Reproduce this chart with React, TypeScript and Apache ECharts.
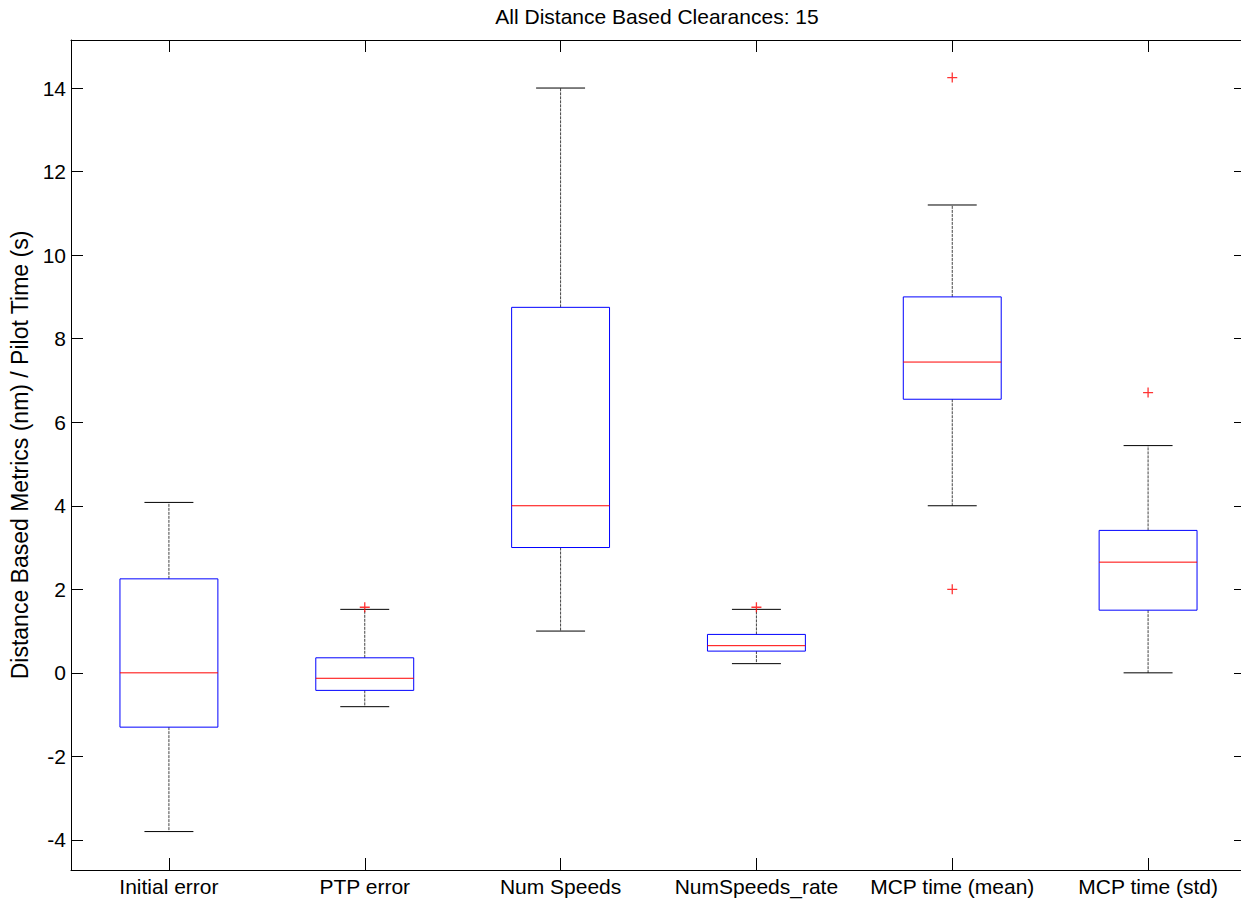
import React, { useEffect, useRef } from "react";
import * as echarts from "echarts";

const categories = ["Initial error", "PTP error", "Num Speeds", "NumSpeeds_rate", "MCP time (mean)", "MCP time (std)"];
const lowerWhisker = [-3.8, -0.81, 1.0, 0.22, 4.0, 0.0];
const q1 = [-1.3, -0.42, 3.0, 0.52, 6.55, 1.5];
const median = [0.0, -0.13, 4.0, 0.65, 7.44, 2.65];
const q3 = [2.25, 0.36, 8.75, 0.92, 9.0, 3.41];
const upperWhisker = [4.08, 1.52, 14.0, 1.52, 11.2, 5.44];
const outlierCats = [1, 3, 4, 4, 5];
const outlierValues = [1.57, 1.57, 14.25, 2.0, 6.71];
const yTicks = [-4, -2, 0, 2, 4, 6, 8, 10, 12, 14];
const yMin = -4.72;
const yMax = 15.15;

const FONT = "Liberation Sans, Arial, Helvetica, sans-serif";
const FS = 21;

export default function App() {
  const ref = useRef<HTMLDivElement>(null);
  useEffect(() => {
    if (!ref.current) return;
    const chart = echarts.init(ref.current, undefined, { renderer: "svg" });
    const boxData = categories.map((_, i) => [i, lowerWhisker[i], q1[i], median[i], q3[i], upperWhisker[i]]);
    const outData = outlierCats.map((c, i) => [c, outlierValues[i]]);
    const tickCommon = { show: true, inside: true, length: 12, lineStyle: { color: "#000", width: 1 } };
    const lineCommon = { show: true, onZero: false, lineStyle: { color: "#000", width: 1 } };
    chart.setOption({
      animation: false,
      backgroundColor: "#fff",
      title: {
        text: "All Distance Based Clearances: 15",
        left: 652,
        top: 1,
        textAlign: "center",
        textStyle: { fontFamily: FONT, fontSize: 21, fontWeight: "normal", color: "#000" },
      },
      grid: { left: 67, top: 40, width: 1179, height: 830 },
      xAxis: [
        {
          type: "category",
          data: categories,
          position: "bottom",
          boundaryGap: true,
          axisLine: lineCommon,
          axisTick: { ...tickCommon, alignWithLabel: true, interval: 0 },
          axisLabel: { color: "#000", fontFamily: FONT, fontSize: FS, margin: 6, interval: 0 },
          splitLine: { show: false },
        },
        {
          type: "category",
          data: categories,
          position: "top",
          boundaryGap: true,
          axisLine: lineCommon,
          axisTick: { ...tickCommon, alignWithLabel: true, interval: 0 },
          axisLabel: { show: false, interval: 0 },
          splitLine: { show: false },
        },
      ],
      yAxis: [
        {
          type: "value",
          min: yMin,
          max: yMax,
          position: "left",
          name: "Distance Based Metrics (nm) / Pilot Time (s)",
          nameLocation: "middle",
          nameRotate: 90,
          nameGap: 40,
          nameTextStyle: { fontFamily: FONT, fontSize: 23, color: "#000" },
          axisLine: lineCommon,
          axisTick: { ...tickCommon, customValues: yTicks },
          axisLabel: { color: "#000", fontFamily: FONT, fontSize: FS, margin: 5, customValues: yTicks },
          splitLine: { show: false },
        },
        {
          type: "value",
          min: yMin,
          max: yMax,
          position: "right",
          axisLine: lineCommon,
          axisTick: { ...tickCommon, customValues: yTicks },
          axisLabel: { show: false },
          splitLine: { show: false },
        },
      ],
      series: [
        {
          type: "custom",
          xAxisIndex: 0,
          yAxisIndex: 0,
          data: boxData,
          renderItem: (params: any, api: any) => {
            const x = api.value(0);
            const lo = api.coord([x, api.value(1)]);
            const b1 = api.coord([x, api.value(2)]);
            const md = api.coord([x, api.value(3)]);
            const b3 = api.coord([x, api.value(4)]);
            const hi = api.coord([x, api.value(5)]);
            const band = api.size([1, 0])[0];
            const bw = band * 0.5;
            const cw = band * 0.25;
            const cx = lo[0];
            const whisk = { stroke: "#444", lineWidth: 1, lineDash: [3, 1] };
            return {
              type: "group",
              children: [
                { type: "line", shape: { x1: cx, y1: b3[1], x2: cx, y2: hi[1] }, style: whisk },
                { type: "line", shape: { x1: cx, y1: b1[1], x2: cx, y2: lo[1] }, style: whisk },
                { type: "line", shape: { x1: cx - cw / 2, y1: hi[1], x2: cx + cw / 2, y2: hi[1] }, style: { stroke: "#000", lineWidth: 1 } },
                { type: "line", shape: { x1: cx - cw / 2, y1: lo[1], x2: cx + cw / 2, y2: lo[1] }, style: { stroke: "#000", lineWidth: 1 } },
                {
                  type: "rect",
                  shape: { x: cx - bw / 2, y: b3[1], width: bw, height: b1[1] - b3[1] },
                  style: { fill: "none", stroke: "#0000ff", lineWidth: 1 },
                },
                { type: "line", shape: { x1: cx - bw / 2, y1: md[1], x2: cx + bw / 2, y2: md[1] }, style: { stroke: "#ff0000", lineWidth: 1 } },
              ],
            };
          },
        },
        {
          type: "scatter",
          xAxisIndex: 0,
          yAxisIndex: 0,
          data: outData,
          symbol: "path://M0,5H10M5,0V10",
          symbolSize: 10,
          itemStyle: { color: "none", borderColor: "#ff0000", borderWidth: 1.3 },
          emphasis: { disabled: true },
        },
      ],
    });
    return () => chart.dispose();
  }, []);
  return (
    <div style={{ position: "absolute", left: 0, top: 0, width: 1241, height: 903, overflow: "hidden" }}>
      <div ref={ref} style={{ width: 1252, height: 903 }} />
    </div>
  );
}
